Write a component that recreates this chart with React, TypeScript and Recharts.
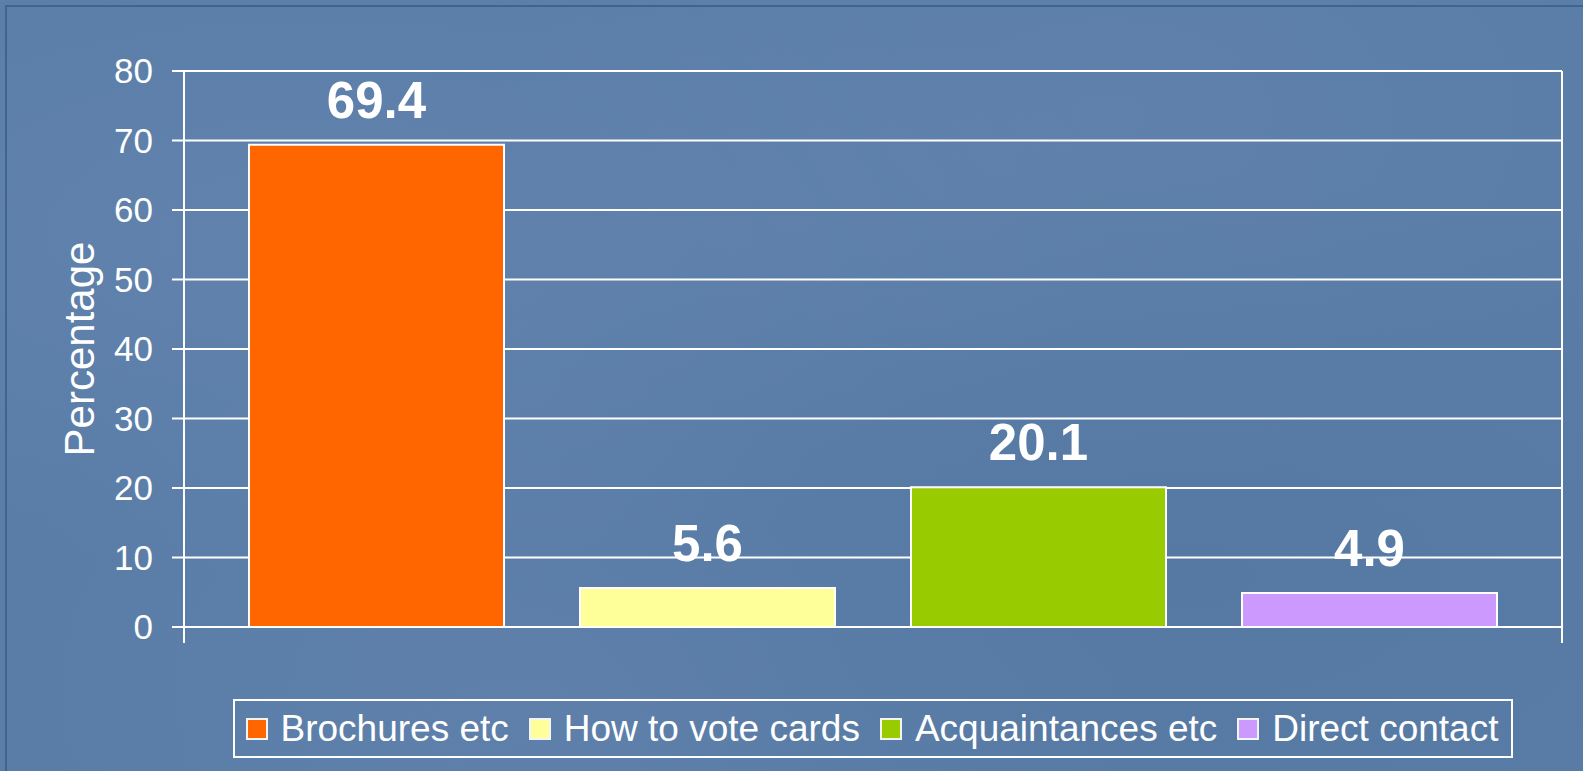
import React from 'react';
import { BarChart, Bar, XAxis, YAxis, CartesianGrid, Legend, LabelList } from 'recharts';

const seriesNames = ['Brochures etc', 'How to vote cards', 'Acquaintances etc', 'Direct contact'];
const seriesKeys = ['brochures', 'howToVote', 'acquaintances', 'direct'];
const seriesValues = [69.4, 5.6, 20.1, 4.9];
const seriesColors = ['#ff6600', '#ffff99', '#99cc00', '#cc99ff'];
const yTicks = [0, 10, 20, 30, 40, 50, 60, 70, 80];

const FONT = '"Liberation Sans", Arial, sans-serif';

// single category holding all four series, like the original clustered chart
const row: Record<string, number | string> = { name: '' };
seriesKeys.forEach((k, i) => {
  row[k] = seriesValues[i];
});
const data = [row];

// tick marks at the edges of the category band, below the axis line
const EdgeTicks = (props: any) => {
  const { x, y, payload } = props;
  const half = payload && typeof payload.offset === 'number' ? payload.offset : 0;
  if (!half) return <g />;
  return (
    <g>
      <line x1={x - half} x2={x - half} y1={y} y2={y + 16} stroke="#ffffff" strokeWidth={2} />
      <line x1={x + half} x2={x + half} y1={y} y2={y + 16} stroke="#ffffff" strokeWidth={2} />
    </g>
  );
};

const LegendBox = () => (
  <div style={{ display: 'flex', justifyContent: 'center', width: '100%' }}>
    <div
      style={{
        display: 'flex',
        alignItems: 'center',
        height: 59,
        boxSizing: 'border-box',
        border: '2px solid #ffffff',
        padding: '0 13px 0 11px',
        fontFamily: FONT,
        fontSize: 37,
        color: '#ffffff',
        whiteSpace: 'nowrap',
      }}
    >
      {seriesNames.map((name, i) => (
        <div key={name} style={{ display: 'flex', alignItems: 'center', marginLeft: i === 0 ? 0 : 20 }}>
          <span
            style={{
              display: 'inline-block',
              width: 22,
              height: 22,
              boxSizing: 'border-box',
              border: '2px solid #f4f4f4',
              background: seriesColors[i],
              marginRight: 13,
            }}
          />
          <span>{name}</span>
        </div>
      ))}
    </div>
  </div>
);

export default function App() {
  return (
    <div
      style={{
        position: 'absolute',
        left: 0,
        top: 0,
        width: 1583,
        height: 771,
        overflow: 'hidden',
        background:
          'radial-gradient(ellipse at 20% 30%, rgba(125,155,195,0.18), transparent 45%),' +
          'radial-gradient(ellipse at 70% 15%, rgba(120,150,190,0.15), transparent 40%),' +
          'radial-gradient(ellipse at 75% 75%, rgba(70,105,150,0.2), transparent 50%),' +
          'radial-gradient(ellipse at 35% 90%, rgba(120,150,190,0.15), transparent 40%),' +
          '#5a7da7',
      }}
    >
      <div
        style={{
          position: 'absolute',
          left: 5,
          top: 5,
          right: -10,
          bottom: -10,
          borderTop: '2px solid #3f6393',
          borderLeft: '2px solid #3f6393',
        }}
      />
      <div style={{ position: 'absolute', left: 0, top: 0 }}>
        <BarChart
          width={1583}
          height={771}
          data={data}
          margin={{ top: 71, right: 21, left: 0, bottom: 13 }}
          barGap={76}
        >
          <CartesianGrid
            stroke="#ffffff"
            strokeWidth={2}
            verticalCoordinatesGenerator={({ offset }: any) => [offset.left, offset.left + offset.width]}
          />
          <XAxis
            dataKey="name"
            type="category"
            height={72}
            axisLine={{ stroke: '#ffffff', strokeWidth: 2 }}
            tickLine={false}
            tickSize={0}
            tickMargin={0}
            tick={<EdgeTicks />}
          />
          <YAxis
            domain={[0, 80]}
            ticks={yTicks}
            width={184}
            axisLine={{ stroke: '#ffffff', strokeWidth: 2 }}
            tickLine={{ stroke: '#ffffff', strokeWidth: 2 }}
            tickSize={12}
            tickMargin={19}
            tick={{ fill: '#ffffff', fontSize: 35, fontFamily: FONT }}
            label={{
              value: 'Percentage',
              angle: -90,
              position: 'insideLeft',
              offset: 79,
              fill: '#ffffff',
              fontSize: 42,
              fontFamily: FONT,
              style: { textAnchor: 'middle' },
            }}
          />
          <Legend verticalAlign="bottom" content={<LegendBox />} wrapperStyle={{ left: 184, width: 1378 }} />
          {seriesKeys.map((k, i) => (
            <Bar
              key={k}
              dataKey={k}
              name={seriesNames[i]}
              fill={seriesColors[i]}
              stroke="#ffffff"
              strokeWidth={2}
              barSize={255}
              isAnimationActive={false}
            >
              <LabelList
                dataKey={k}
                position="top"
                offset={27}
                fill="#ffffff"
                fontSize={51}
                fontWeight={700}
                fontFamily={FONT}
              />
            </Bar>
          ))}
        </BarChart>
      </div>
    </div>
  );
}
